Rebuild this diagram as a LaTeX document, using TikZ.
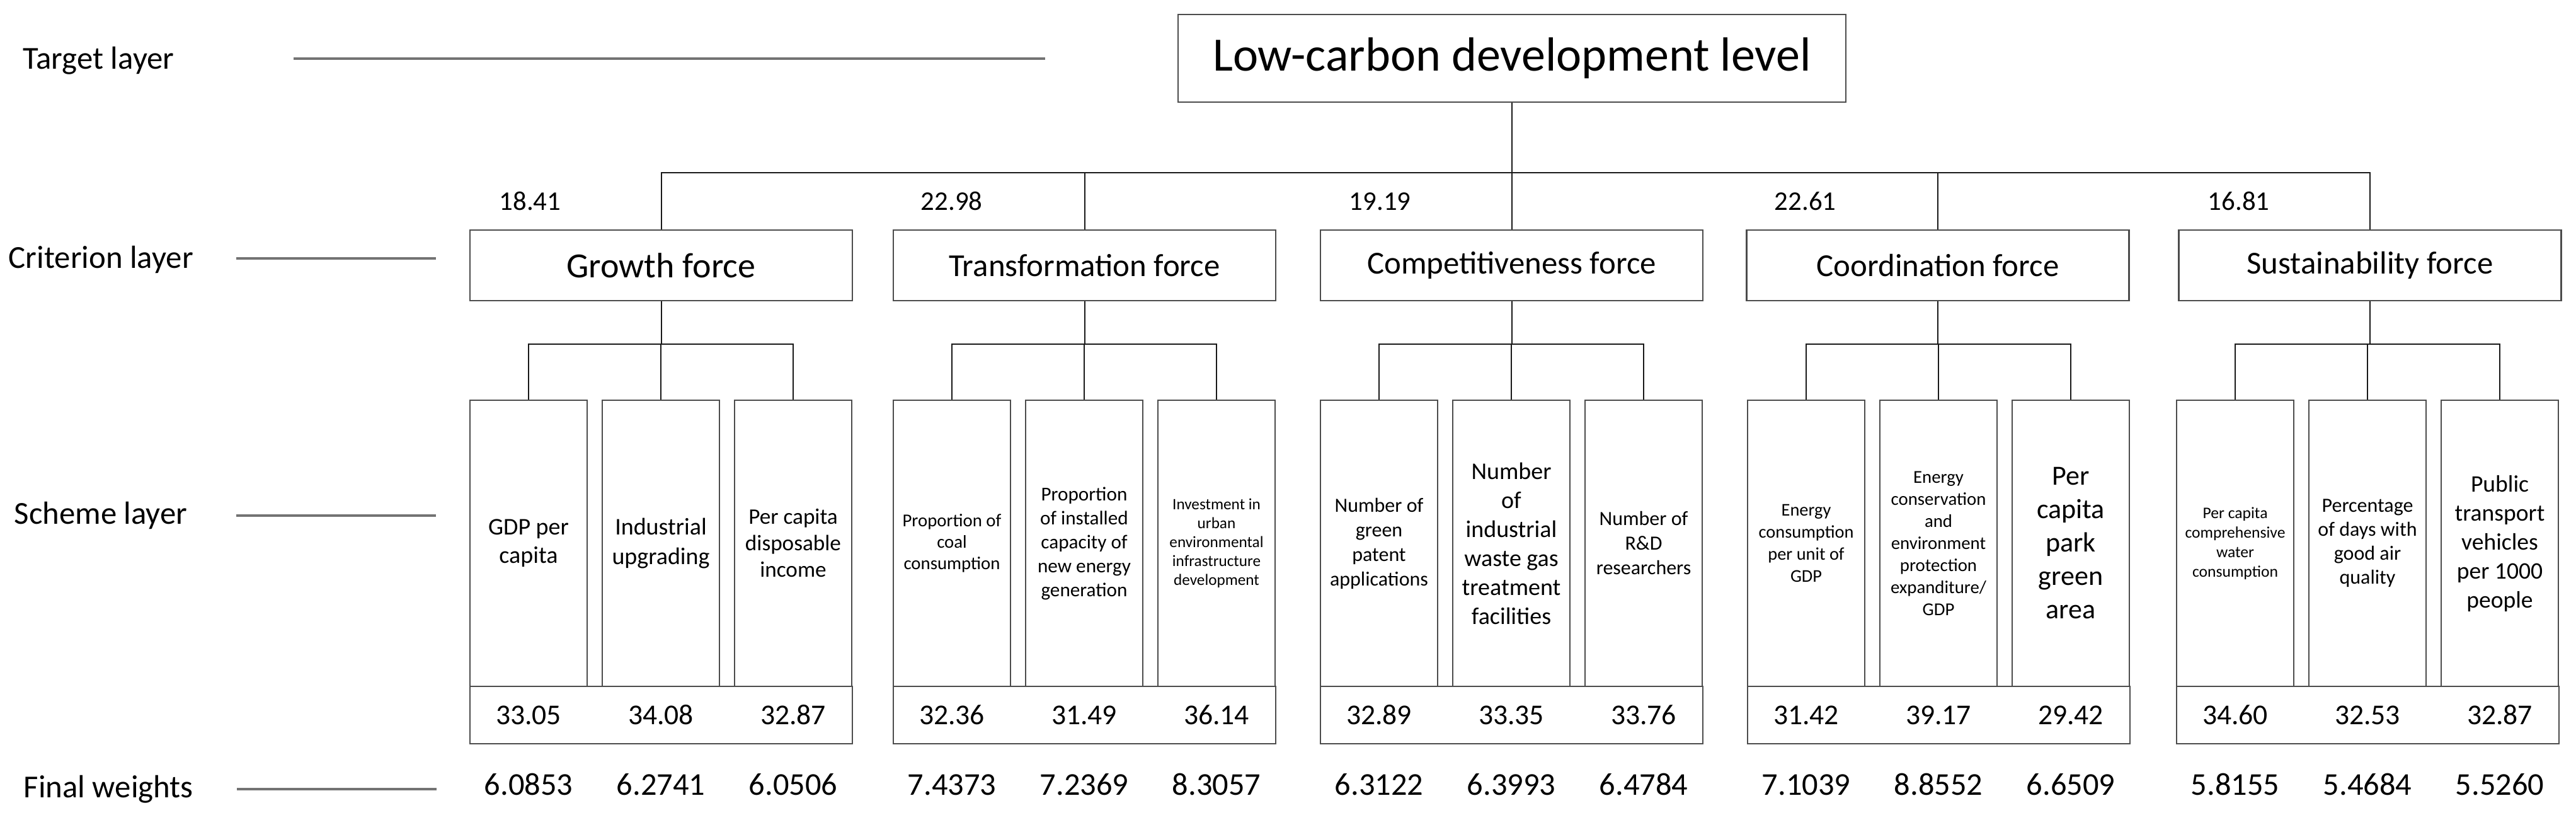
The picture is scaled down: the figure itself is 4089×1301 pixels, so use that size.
\documentclass[tikz,border=0pt]{standalone}
\usepackage{fontspec}
\setmainfont{Carlito}
\begin{document}
\begin{tikzpicture}[x=0.25pt,y=-0.25pt,
  boxline/.style={draw=black!70,line width=0.65pt},
  topbox/.style={boxline,minimum width=265pt,minimum height=34.75pt,inner sep=0pt,font=\fontsize{19}{23}\selectfont},
  critbox/.style={boxline,minimum width=151.75pt,minimum height=28pt,inner sep=0pt,font=\fontsize{12.7}{15}\selectfont},
  subbox/.style={boxline,minimum width=46.5pt,minimum height=113.5pt,inner sep=0pt,align=center},
  valbox/.style={boxline,minimum width=151.75pt,minimum height=22.75pt,inner sep=0pt},
  conn/.style={draw=black!90,line width=0.5pt},
  layerline/.style={draw=black!55,line width=1.1pt},
  layerlabel/.style={anchor=base west,inner sep=0pt,font=\fontsize{12.7}{15}\selectfont},
  wlabel/.style={anchor=base west,inner sep=0pt,font=\fontsize{10.7}{13}\selectfont},
  vlabel/.style={anchor=base,inner sep=0pt,font=\fontsize{11.4}{14}\selectfont},
  flabel/.style={anchor=base,inner sep=0pt,font=\fontsize{12.6}{15}\selectfont}
]
\useasboundingbox (0,0) rectangle (4089,1301);

% layer labels and lines
\node[layerlabel] (lt) at (36,110) {Target layer};
\node[layerlabel] (lc) at (13,426) {Criterion layer};
\node[layerlabel] (ls) at (22,832) {Scheme layer};
\node[layerlabel] (lf) at (37,1266) {Final weights};
\coordinate (lt1) at (466,93);  \coordinate (lt2) at (1659,93);
\coordinate (lc1) at (375,410); \coordinate (lc2) at (692,410);
\coordinate (ls1) at (375,818); \coordinate (ls2) at (692,818);
\coordinate (lf1) at (376,1252);\coordinate (lf2) at (693,1252);
\draw[layerline] (lt1) -- (lt2);
\draw[layerline] (lc1) -- (lc2);
\draw[layerline] (ls1) -- (ls2);
\draw[layerline] (lf1) -- (lf2);

% target
\node[topbox] (top) at (2400,92.5) {Low-carbon development level};

% criterion boxes
\node[critbox,font=\fontsize{14}{17}\selectfont] (c1) at (1049.5,421) {Growth force};
\node[critbox] (c2) at (1721.5,421) {Transformation force};
\node[critbox] (c3) at (2399.5,421) {Competitiveness force};
\node[critbox] (c4) at (3076,421) {Coordination force};
\node[critbox] (c5) at (3762,421) {Sustainability force};

% criterion weights
\node[wlabel] (w1) at (792,334) {18.41};
\node[wlabel] (w2) at (1461,334) {22.98};
\node[wlabel] (w3) at (2141,334) {19.19};
\node[wlabel] (w4) at (2816,334) {22.61};
\node[wlabel] (w5) at (3504,334) {16.81};

% top bus
\coordinate (bus) at (0,274);
\draw[conn] (top.south) -- (top.south |- bus);
\draw[conn] (c1.north) -- (c1.north |- bus) -- (c5.north |- bus) -- (c5.north);
\draw[conn] (c2.north) -- (c2.north |- bus);
\draw[conn] (c3.north) -- (c3.north |- bus);
\draw[conn] (c4.north) -- (c4.north |- bus);

% scheme boxes
\node[subbox,font=\fontsize{9.5}{11.3}\selectfont] (s1) at (839,862) {GDP per\\capita};
\node[subbox,font=\fontsize{9.5}{11.6}\selectfont] (s2) at (1049,862) {Industrial\\upgrading};
\node[subbox,font=\fontsize{8.8}{10.5}\selectfont] (s3) at (1259,862) {Per capita\\disposable\\income};

\node[subbox,font=\fontsize{7.2}{8.5}\selectfont] (s4) at (1511,862) {Proportion of\\coal\\consumption};
\node[subbox,font=\fontsize{7.8}{9.5}\selectfont] (s5) at (1721,862) {Proportion\\of installed\\capacity of\\new energy\\generation};
\node[subbox,font=\fontsize{6.3}{7.5}\selectfont] (s6) at (1931,862) {Investment in\\urban\\environmental\\infrastructure\\development};

\node[subbox,font=\fontsize{8}{9.75}\selectfont] (s7) at (2189,862) {Number of\\green\\patent\\applications};
\node[subbox,font=\fontsize{9.5}{11.5}\selectfont] (s8) at (2399,862) {Number\\of\\industrial\\waste gas\\treatment\\facilities};
\node[subbox,font=\fontsize{8}{9.75}\selectfont] (s9) at (2609,862) {Number of\\R\&D\\researchers};

\node[subbox,font=\fontsize{7.1}{8.75}\selectfont] (s10) at (2867,862) {Energy\\consumption\\per unit of\\GDP};
\node[subbox,font=\fontsize{7.2}{8.75}\selectfont] (s11) at (3077,862) {Energy\\conservation\\and\\environment\\protection\\expanditure/\\GDP};
\node[subbox,font=\fontsize{11}{13.25}\selectfont] (s12) at (3287,862) {Per\\capita\\park\\green\\area};

\node[subbox,font=\fontsize{6.4}{7.75}\selectfont] (s13) at (3548,862) {Per capita\\comprehensive\\water\\consumption};
\node[subbox,font=\fontsize{8}{9.5}\selectfont] (s14) at (3758,862) {Percentage\\of days with\\good air\\quality};
\node[subbox,font=\fontsize{9.4}{11.5}\selectfont] (s15) at (3968,862) {Public\\transport\\vehicles\\per 1000\\people};

% sub buses
\coordinate (sbus) at (0,546);
\draw[conn] (s1.north) -- (s1.north |- sbus) -- (s3.north |- sbus) -- (s3.north);
\draw[conn] (c1.south) -- (c1.south |- sbus);
\draw[conn] (s2.north) -- (s2.north |- sbus);
\draw[conn] (s4.north) -- (s4.north |- sbus) -- (s6.north |- sbus) -- (s6.north);
\draw[conn] (c2.south) -- (c2.south |- sbus);
\draw[conn] (s5.north) -- (s5.north |- sbus);
\draw[conn] (s7.north) -- (s7.north |- sbus) -- (s9.north |- sbus) -- (s9.north);
\draw[conn] (c3.south) -- (c3.south |- sbus);
\draw[conn] (s8.north) -- (s8.north |- sbus);
\draw[conn] (s10.north) -- (s10.north |- sbus) -- (s12.north |- sbus) -- (s12.north);
\draw[conn] (c4.south) -- (c4.south |- sbus);
\draw[conn] (s11.north) -- (s11.north |- sbus);
\draw[conn] (s13.north) -- (s13.north |- sbus) -- (s15.north |- sbus) -- (s15.north);
\draw[conn] (c5.south) -- (c5.south |- sbus);
\draw[conn] (s14.north) -- (s14.north |- sbus);

% value boxes
\node[valbox] (v1) at (1049.5,1134.5) {};
\node[valbox] (v2) at (1721.5,1134.5) {};
\node[valbox] (v3) at (2399.5,1134.5) {};
\node[valbox] (v4) at (3077.5,1134.5) {};
\node[valbox] (v5) at (3758.5,1134.5) {};

% local weights
\node[vlabel] (a1) at (839,1150) {33.05};
\node[vlabel] (a2) at (1049,1150) {34.08};
\node[vlabel] (a3) at (1259,1150) {32.87};
\node[vlabel] (a4) at (1511,1150) {32.36};
\node[vlabel] (a5) at (1721,1150) {31.49};
\node[vlabel] (a6) at (1931,1150) {36.14};
\node[vlabel] (a7) at (2189,1150) {32.89};
\node[vlabel] (a8) at (2399,1150) {33.35};
\node[vlabel] (a9) at (2609,1150) {33.76};
\node[vlabel] (a10) at (2867,1150) {31.42};
\node[vlabel] (a11) at (3077,1150) {39.17};
\node[vlabel] (a12) at (3287,1150) {29.42};
\node[vlabel] (a13) at (3548,1150) {34.60};
\node[vlabel] (a14) at (3758,1150) {32.53};
\node[vlabel] (a15) at (3968,1150) {32.87};

% final weights
\node[flabel] (f1) at (839,1262) {6.0853};
\node[flabel] (f2) at (1049,1262) {6.2741};
\node[flabel] (f3) at (1259,1262) {6.0506};
\node[flabel] (f4) at (1511,1262) {7.4373};
\node[flabel] (f5) at (1721,1262) {7.2369};
\node[flabel] (f6) at (1931,1262) {8.3057};
\node[flabel] (f7) at (2189,1262) {6.3122};
\node[flabel] (f8) at (2399,1262) {6.3993};
\node[flabel] (f9) at (2609,1262) {6.4784};
\node[flabel] (f10) at (2867,1262) {7.1039};
\node[flabel] (f11) at (3077,1262) {8.8552};
\node[flabel] (f12) at (3287,1262) {6.6509};
\node[flabel] (f13) at (3548,1262) {5.8155};
\node[flabel] (f14) at (3758,1262) {5.4684};
\node[flabel] (f15) at (3968,1262) {5.5260};
\end{tikzpicture}
\end{document}
